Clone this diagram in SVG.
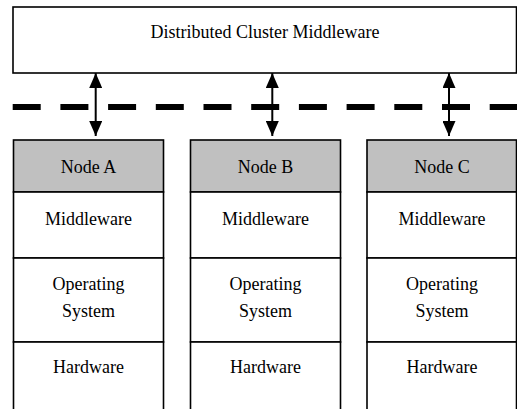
<svg xmlns="http://www.w3.org/2000/svg" width="517" height="409" viewBox="0 0 517 409">
<style>
rect{stroke:#000;stroke-width:1.6}
.w{fill:#fff}
.h{fill:#c0c0c0}
text{font-size:18px;fill:#000;text-anchor:middle}
.arr{stroke:#000;stroke-width:2;fill:none;marker-start:url(#ah);marker-end:url(#ah)}
.bus{stroke:#000;stroke-width:6;stroke-dasharray:28 19.7;fill:none}
</style>
<defs>
<marker id="ah" viewBox="0 0 15 13" refX="15" refY="6.5" markerWidth="15" markerHeight="13" markerUnits="userSpaceOnUse" orient="auto-start-reverse">
<path d="M0,0 L15,6.5 L0,13 z" fill="#000"/>
</marker>
</defs>
<rect x="0" y="0" width="517" height="409" style="fill:#fff;stroke:none"/>
<g font-family="'Liberation Serif', Tinos, 'Times New Roman', 'DejaVu Serif', serif">
<g id="dcm">
<rect class="w" x="13" y="7" width="503.5" height="66"/>
<text transform="translate(265 38.3) scale(1 1.1)">Distributed Cluster Middleware</text>
</g>
<g id="connectors">
<line class="bus" x1="12.7" y1="107" x2="517" y2="107"/>
<line class="arr" x1="95.7" y1="73" x2="95.7" y2="136"/>
<line class="arr" x1="272.3" y1="73" x2="272.3" y2="136"/>
<line class="arr" x1="449" y1="73" x2="449" y2="136"/>
</g>
<g id="nodeA">
<rect class="h" x="13.5" y="140" width="150" height="52"/>
<rect class="w" x="13.5" y="192" width="150" height="66"/>
<rect class="w" x="13.5" y="258" width="150" height="84"/>
<rect class="w" x="13.5" y="342" width="150" height="68"/>
<text transform="translate(88.5 173.3) scale(1 1.1)">Node A</text>
<text transform="translate(88.5 225) scale(1 1.1)">Middleware</text>
<text transform="translate(88.5 290) scale(1 1.1)">Operating</text>
<text transform="translate(88.5 316.7) scale(1 1.1)">System</text>
<text transform="translate(88.5 373.3) scale(1 1.1)">Hardware</text>
</g>
<g id="nodeB">
<rect class="h" x="190.5" y="140" width="150" height="52"/>
<rect class="w" x="190.5" y="192" width="150" height="66"/>
<rect class="w" x="190.5" y="258" width="150" height="84"/>
<rect class="w" x="190.5" y="342" width="150" height="68"/>
<text transform="translate(265.5 173.3) scale(1 1.1)">Node B</text>
<text transform="translate(265.5 225) scale(1 1.1)">Middleware</text>
<text transform="translate(265.5 290) scale(1 1.1)">Operating</text>
<text transform="translate(265.5 316.7) scale(1 1.1)">System</text>
<text transform="translate(265.5 373.3) scale(1 1.1)">Hardware</text>
</g>
<g id="nodeC">
<rect class="h" x="367" y="140" width="149.5" height="52"/>
<rect class="w" x="367" y="192" width="149.5" height="66"/>
<rect class="w" x="367" y="258" width="149.5" height="84"/>
<rect class="w" x="367" y="342" width="149.5" height="68"/>
<text transform="translate(442 173.3) scale(1 1.1)">Node C</text>
<text transform="translate(442 225) scale(1 1.1)">Middleware</text>
<text transform="translate(442 290) scale(1 1.1)">Operating</text>
<text transform="translate(442 316.7) scale(1 1.1)">System</text>
<text transform="translate(442 373.3) scale(1 1.1)">Hardware</text>
</g>
</g>
</svg>
